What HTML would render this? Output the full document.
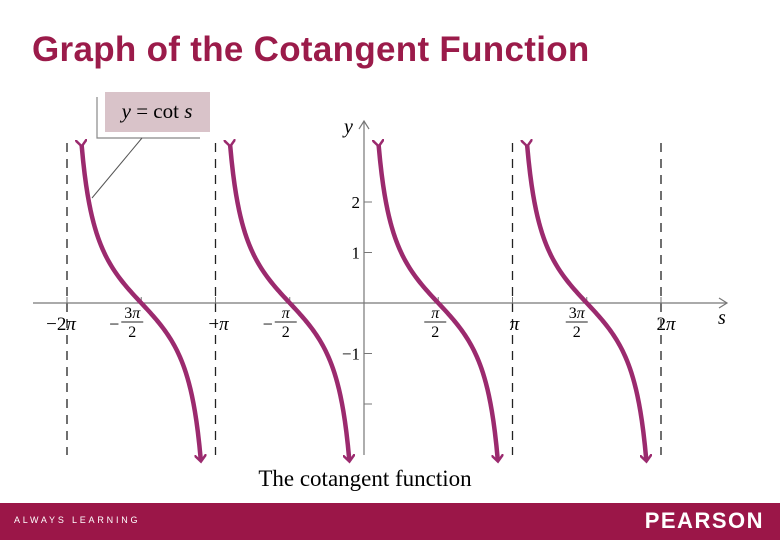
<!DOCTYPE html>
<html><head><meta charset="utf-8"><style>
body{margin:0;width:780px;height:540px;background:#fff;overflow:hidden;position:relative;font-family:"Liberation Sans",sans-serif}
#title{position:absolute;left:32px;top:30px;font-size:35px;font-weight:bold;color:#9b1b4a;letter-spacing:0.3px}
#banner{position:absolute;left:0;top:503px;width:780px;height:37px;background:#9b1648}
</style></head><body>
<div id="title">Graph of the Cotangent Function</div>
<svg id="chart" width="780" height="500" style="position:absolute;left:0;top:0" font-family="Liberation Serif, serif"></svg>
<div id="banner">
<span style="position:absolute;left:14px;top:12px;color:#fff;font-size:9px;letter-spacing:2.8px">ALWAYS LEARNING</span>
<span style="position:absolute;right:16px;top:5px;color:#fff;font-size:22px;font-weight:bold;letter-spacing:1.5px">PEARSON</span>
</div>
<script>
const asymptotes=[-2,-1,0,1,2]; // multiples of pi
const branches=[-2,-1,0,1]; // branch start (multiples of pi)
const yTicks=[2,1,-1,-2];
const yTickLabels=["2","1","\u22121",""];
const xLabels=[[-2,"\u22122","",null],[-1.5,"\u2212","3","2"],[-1,"\u2212","",null],[-0.5,"\u2212","","2"],[0.5,"","","2"],[1,"","",null],[1.5,"","3","2"],[2,"2","",null]];
const labelShift=[-6,-9,3,-4,-3,2,-10,5];
const X=s=>364+s*148.5, Y=v=>303-v*50.5;
const svg=document.getElementById('chart');const NS="http://www.w3.org/2000/svg";
function mk(t,a,n){const e=document.createElementNS(NS,t);for(const k in a)e.setAttribute(k,a[k]);svg.appendChild(e);return e;}
const defs=document.createElementNS(NS,'defs');defs.innerHTML='<marker id="ah" markerWidth="12" markerHeight="12" refX="6" refY="6" orient="auto" markerUnits="userSpaceOnUse"><path d="M0,0 L7,6 L0,12" fill="none" stroke="#9b2a6e" stroke-width="2.5"/></marker><marker id="ax" markerWidth="12" markerHeight="12" refX="10" refY="6" orient="auto" markerUnits="userSpaceOnUse"><path d="M2,1 L10,6 L2,11" fill="none" stroke="#777" stroke-width="1.2"/></marker>';svg.appendChild(defs);
mk('path',{d:'M97,97 V138 H200',fill:'none',stroke:'#888','stroke-width':1.2},'label-box-border');
mk('rect',{x:105,y:92,width:105,height:40,fill:'#d9c3c9'},'label-box');
let t=mk('text',{x:157,y:118,'text-anchor':'middle','font-size':21},'curve-label');t.innerHTML='<tspan font-style="italic">y</tspan> = cot <tspan font-style="italic">s</tspan>';
mk('line',{x1:142,y1:138,x2:92,y2:198,stroke:'#555','stroke-width':1},'label-leader');
asymptotes.forEach(a=>{if(a!==0)mk('line',{x1:X(a),y1:143,x2:X(a),y2:455,stroke:'#222','stroke-width':1.3,'stroke-dasharray':'9,7'},'asymptote');});
mk('line',{x1:33,y1:303,x2:727,y2:303,stroke:'#777','stroke-width':1.2,'marker-end':'url(#ax)'},'x-axis');
mk('line',{x1:364,y1:455,x2:364,y2:121,stroke:'#777','stroke-width':1.2,'marker-end':'url(#ax)'},'y-axis');
t=mk('text',{x:344,y:133,'font-size':20,'font-style':'italic'},'y-axis-title');t.textContent='y';
t=mk('text',{x:718,y:324,'font-size':20,'font-style':'italic'},'x-axis-title');t.textContent='s';
yTicks.forEach((v,i)=>{mk('line',{x1:364,y1:Y(v),x2:372,y2:Y(v),stroke:'#777'},'y-tick');const tt=mk('text',{x:360,y:Y(v)+6,'text-anchor':'end','font-size':17},'y-tick-label');tt.textContent=yTickLabels[i];});
xLabels.forEach(([m,sign,num,d],i)=>{const x=X(m);mk('line',{x1:x,y1:297,x2:x,y2:303,stroke:'#777'},'x-tick');
 const cx=x+labelShift[i];
 if(d){
  if(sign){const s=mk('text',{x:cx-13,y:330,'text-anchor':'end','font-size':18},'x-tick-sign');s.textContent=sign;}
  const a=mk('text',{x:cx,y:318,'text-anchor':'middle','font-size':16},'x-tick-numerator');a.innerHTML=num+'<tspan font-style="italic">\u03c0</tspan>';
  mk('line',{x1:cx-11,y1:322,x2:cx+11,y2:322,stroke:'#222'},'fraction-bar');
  const b=mk('text',{x:cx,y:337,'text-anchor':'middle','font-size':16},'x-tick-denominator');b.textContent=d;}
 else{const a=mk('text',{x:cx,y:330,'text-anchor':'middle','font-size':19},'x-tick-label');a.innerHTML=sign+'<tspan font-style="italic">\u03c0</tspan>';}});
branches.forEach(b=>{let pts=[];const e=0.31;for(let i=0;i<=80;i++){const s=b*Math.PI+e+(Math.PI-2*e)*i/80;pts.push(X(s/Math.PI)+','+Y(1/Math.tan(s)));}
 mk('polyline',{points:pts.join(' '),fill:'none',stroke:'#9b2a6e','stroke-width':4.5,'marker-start':'url(#ah)','marker-end':'url(#ah)'},'cot-branch');});
t=mk('text',{x:365,y:486,'text-anchor':'middle','font-size':23},'chart-caption');t.textContent='The cotangent function';
</script>
</body></html>
